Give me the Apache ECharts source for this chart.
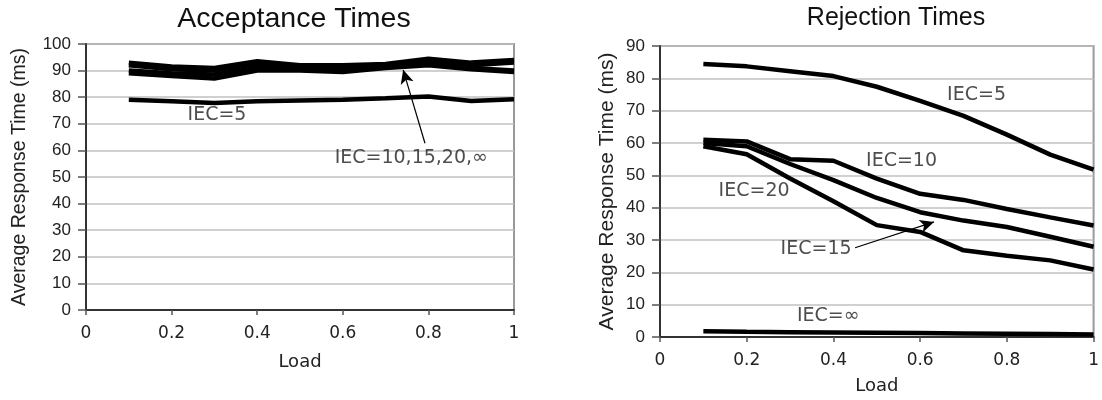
<!DOCTYPE html>
<html><head><meta charset="utf-8">
<script src="https://cdn.jsdelivr.net/npm/echarts@6/dist/echarts.min.js"></script>
<style>html,body{margin:0;padding:0;background:#fff}#c{width:1102px;height:400px}</style>
</head><body><div id="c"></div>
<script>
const loads = [0.1,0.2,0.3,0.4,0.5,0.6,0.7,0.8,0.9,1.0];
// Acceptance times (ms)
const accIEC5   = [79, 78.5, 77.8, 78.5, 78.8, 79, 79.6, 80.3, 78.6, 79.2];
const accIEC10  = [93, 91.5, 91, 93.5, 92, 92, 92.5, 94.5, 93, 94];
const accIEC15  = [92, 90.5, 90, 92.5, 91.5, 91.5, 92, 93.5, 92, 93];
const accIEC20  = [90, 89, 88.5, 91, 91, 90.5, 91.5, 92.5, 91, 90];
const accIECinf = [89, 88, 87, 90, 90, 89.5, 91, 92, 90.5, 89.5];
// Rejection times (ms)
const rejIEC5   = [84.4, 83.7, 82.2, 80.7, 77.4, 73, 68.4, 62.6, 56.4, 51.8];
const rejIEC10  = [61, 60.5, 55, 54.5, 49, 44.3, 42.4, 39.6, 37, 34.5];
const rejIEC15  = [60, 59, 53.5, 48.5, 43, 38.6, 36, 34, 31, 27.9];
const rejIEC20  = [59, 56.5, 49, 42, 34.6, 32.5, 26.8, 25.1, 23.7, 20.9];
const rejIECinf = [1.8, 1.6, 1.5, 1.4, 1.3, 1.2, 1.1, 1.0, 0.9, 0.8];

const VFONT = 'DejaVu Sans';
const AFONT = 'Liberation Sans';
const pairs = (ys) => loads.map((x, i) => [x, ys[i]]);

function mkLine(name, ys, gi) {
  return { name, type: 'line', xAxisIndex: gi, yAxisIndex: gi, data: pairs(ys),
    showSymbol: false, symbol: 'none', lineStyle: { color: '#000', width: 4.5 }, z: 3 };
}
function mkText(gi, items) {
  return { type: 'scatter', xAxisIndex: gi, yAxisIndex: gi, symbolSize: 0, silent: true, z: 5,
    data: items.map(t => ({ value: [t[0], t[1]], text: t[2] })),
    label: { show: true, position: 'inside', color: '#222', fontFamily: VFONT, fontSize: 19,
      formatter: p => p.data.text } };
}
function mkArrow(gi, from, to) {
  return { type: 'line', xAxisIndex: gi, yAxisIndex: gi, data: [], silent: true,
    markLine: { silent: true, symbol: ['none', 'arrow'], symbolSize: [10, 14], animation: false,
      label: { show: false }, lineStyle: { color: '#000', width: 1.2, type: 'solid' },
      data: [[{ coord: from }, { coord: to }]] } };
}
function xAx(gi, gap) {
  return { type: 'value', gridIndex: gi, min: 0, max: 1, interval: 0.2,
    name: 'Load', nameLocation: 'middle', nameGap: gap,
    nameTextStyle: { fontFamily: VFONT, fontSize: 18, color: '#222' },
    axisLine: { lineStyle: { color: '#333', width: 2 } },
    axisTick: { show: true, length: 5, lineStyle: { color: '#555', width: 1.5 } },
    axisLabel: { fontFamily: VFONT, fontSize: 17, color: '#222', margin: 15 },
    splitLine: { show: false } };
}
function yAx(gi, max, gap, nameSize) {
  return { type: 'value', gridIndex: gi, min: 0, max, interval: 10,
    name: 'Average Response Time (ms)', nameLocation: 'middle', nameGap: gap,
    nameTextStyle: { fontFamily: AFONT, fontSize: nameSize, color: '#222' },
    axisLine: { show: true, lineStyle: { color: '#333', width: 2 } },
    axisTick: { show: true, length: 8, lineStyle: { color: '#555', width: 1.5 } },
    axisLabel: { fontFamily: AFONT, fontSize: 17, color: '#222', margin: 15 },
    splitLine: { show: true, lineStyle: { color: '#c0c0c0', width: 1.5 } } };
}

const chart = echarts.init(document.getElementById('c'), null, { renderer: 'canvas' });
chart.setOption({
  animation: false,
  backgroundColor: '#fff',
  title: [
    { text: 'Acceptance Times', left: 289, top: 0, textAlign: 'center',
      textStyle: { fontFamily: AFONT, fontSize: 28.5, fontWeight: 'normal', color: '#111' } },
    { text: 'Rejection Times', left: 891, top: 1, textAlign: 'center',
      textStyle: { fontFamily: AFONT, fontSize: 25, fontWeight: 'normal', color: '#111' } }
  ],
  grid: [
    { left: 86, right: 588, top: 44, bottom: 90, show: true, borderColor: '#999', borderWidth: 2 },
    { left: 660, right: 4, top: 46, bottom: 61, show: true, borderColor: '#999', borderWidth: 2 }
  ],
  xAxis: [xAx(0, 43), xAx(1, 40)],
  yAxis: [yAx(0, 100, 56, 19.5), yAx(1, 90, 42, 21)],
  series: [
    mkLine('IEC=5', accIEC5, 0),
    mkLine('IEC=10', accIEC10, 0),
    mkLine('IEC=15', accIEC15, 0),
    mkLine('IEC=20', accIEC20, 0),
    mkLine('IEC=∞', accIECinf, 0),
    mkLine('IEC=5', rejIEC5, 1),
    mkLine('IEC=10', rejIEC10, 1),
    mkLine('IEC=15', rejIEC15, 1),
    mkLine('IEC=20', rejIEC20, 1),
    mkLine('IEC=∞', rejIECinf, 1),
    mkText(0, [[0.306, 73.2, 'IEC=5'], [0.76, 57.2, 'IEC=10,15,20,∞']]),
    mkText(1, [[0.73, 74.8, 'IEC=5'], [0.557, 54.3, 'IEC=10'], [0.217, 45.1, 'IEC=20'],
               [0.36, 27.3, 'IEC=15'], [0.388, 6.4, 'IEC=∞']]),
    mkArrow(0, [0.792, 62.7], [0.741, 90.3]),
    mkArrow(1, [0.45, 27.6], [0.632, 35.6])
  ]
});
</script></body></html>
